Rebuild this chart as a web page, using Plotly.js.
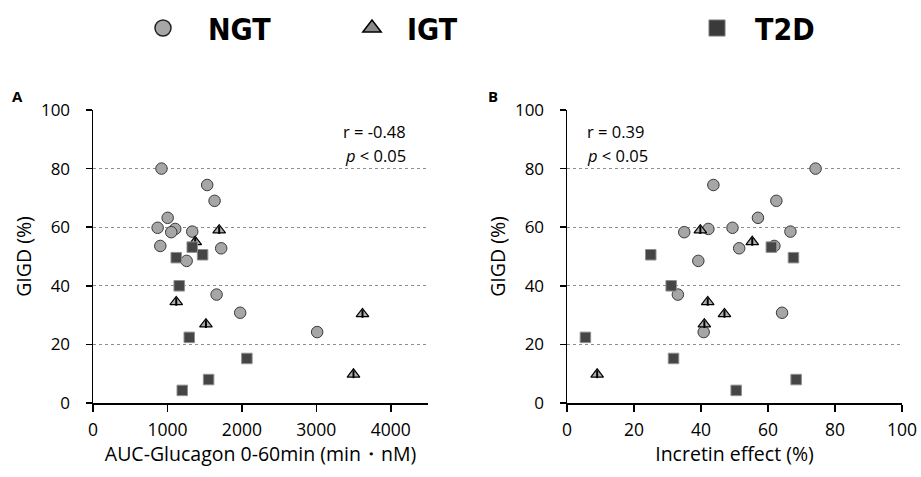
<!DOCTYPE html>
<html><head><meta charset="utf-8">
<script src="https://cdn.plot.ly/plotly-3.0.1.min.js"></script>
<style>html,body{margin:0;padding:0;background:#fff}</style>
</head><body><div id="chart" style="width:921px;height:477px"></div>
<script>
// Group names
const groupNames = ['NGT', 'IGT', 'T2D'];
// NGT subjects
const ngtGIGD      = [80.0, 74.4, 69.0, 63.2, 59.8, 59.4, 58.3, 58.5, 53.6, 52.8, 48.5, 37.0, 30.8, 24.2];
const ngtGlucagon  = [920, 1534, 1633, 1003, 868, 1105, 1051, 1333, 904, 1722, 1258, 1660, 1977, 3011];
const ngtIncretin  = [74.2, 43.7, 62.5, 57.0, 49.4, 42.2, 35.0, 66.7, 61.9, 51.4, 39.2, 33.1, 64.2, 40.8];
// IGT subjects
const igtGIGD      = [59.0, 55.0, 34.5, 30.4, 26.9, 9.8];
const igtGlucagon  = [1695, 1373, 1118, 3620, 1517, 3499];
const igtIncretin  = [39.8, 55.3, 42.0, 47.0, 41.0, 9.0];
// T2D subjects
const t2dGIGD      = [53.2, 50.6, 49.6, 40.0, 22.4, 15.2, 8.0, 4.3];
const t2dGlucagon  = [1333, 1472, 1118, 1158, 1293, 2067, 1553, 1199];
const t2dIncretin  = [61.0, 25.0, 67.6, 31.1, 5.5, 31.8, 68.4, 50.5];
// axis ticks
const xTicksA = [0, 1000, 2000, 3000, 4000];
const xTicksB = [0, 20, 40, 60, 80, 100];
const yTicks  = [0, 20, 40, 60, 80, 100];
// stats text
const statsA = ['r = -0.48', '<i>p</i> < 0.05'];
const statsB = ['r = 0.39', '<i>p</i> < 0.05'];

const FONT = 'Open Sans, Noto Sans, sans-serif';
const LEGFONT = 'Liberation Sans Narrow, DejaVu Sans Condensed, sans-serif';

const mk = {
  NGT: {symbol: 'circle', size: 11.5, color: '#a6a6a6', line: {color: '#3a3a3a', width: 1}},
  IGT: {symbol: 'triangle-up', size: 11, color: '#b0b0b0', line: {color: '#000000', width: 1.2}},
  T2D: {symbol: 'square', size: 10.5, color: '#454545', line: {color: '#8f8f8f', width: 1}}
};
const stripe = {symbol: 'line-ns', size: 5.5, color: '#000', line: {color: '#000', width: 2}};
const legMk = {
  NGT: {symbol: 'circle', size: 16, color: '#a6a6a6', line: {color: '#222', width: 1.5}},
  IGT: {symbol: 'triangle-up', size: 16, color: '#8a8a8a', line: {color: '#000', width: 1.5}},
  T2D: {symbol: 'square', size: 16, color: '#3a3a3a', line: {color: '#777', width: 1}}
};

const dataSets = [
  {name: groupNames[0], y: ngtGIGD, a: ngtGlucagon, b: ngtIncretin, legend: 'legend'},
  {name: groupNames[1], y: igtGIGD, a: igtGlucagon, b: igtIncretin, legend: 'legend2'},
  {name: groupNames[2], y: t2dGIGD, a: t2dGlucagon, b: t2dIncretin, legend: 'legend3'}
];

const traces = [];
[['x', 'y', 'a'], ['x2', 'y2', 'b']].forEach(([xa, ya, key]) => {
  dataSets.forEach(d => {
    traces.push({type: 'scatter', mode: 'markers', x: d[key], y: d.y, xaxis: xa, yaxis: ya,
      name: d.name, showlegend: false, marker: mk[d.name], cliponaxis: false, hoverinfo: 'x+y'});
    if (d.name === 'IGT') {
      traces.push({type: 'scatter', mode: 'markers', x: d[key], y: d.y, xaxis: xa, yaxis: ya,
        name: d.name, showlegend: false, marker: stripe, cliponaxis: false, hoverinfo: 'skip'});
    }
  });
});
// legend entries (no data points)
dataSets.forEach(d => {
  traces.push({type: 'scatter', mode: 'markers', x: [null], y: [null], xaxis: 'x', yaxis: 'y',
    name: d.name, legend: d.legend, showlegend: true, marker: legMk[d.name], hoverinfo: 'skip'});
});

const yDom = [1 - 403 / 477, 1 - 110 / 477];
const commonY = {
  range: [0, 100], tickvals: yTicks, ticktext: yTicks.map(String),
  showgrid: true, gridcolor: '#8c8c8c', griddash: 'dot', gridwidth: 1,
  showline: true, linecolor: '#000', linewidth: 1.5, zeroline: false,
  ticks: 'outside', ticklen: 6, tickwidth: 1.5, tickcolor: '#000',
  tickfont: {family: FONT, size: 17, color: '#000'}, ticklabelstandoff: 12,
  title: {text: 'GIGD (%)', font: {family: FONT, size: 19.5, color: '#000'}, standoff: 4},
  domain: yDom, automargin: false, fixedrange: true
};
const commonX = {
  showgrid: false, showline: true, linecolor: '#000', linewidth: 1.5, zeroline: false,
  ticks: 'outside', ticklen: 7, tickwidth: 1.5, tickcolor: '#000',
  tickfont: {family: FONT, size: 17.5, color: '#000'}, ticklabelstandoff: 3,
  automargin: false, fixedrange: true
};

const legCommon = {orientation: 'h', yanchor: 'middle', xanchor: 'left',
  y: 1 - 28 / 477, bgcolor: 'rgba(0,0,0,0)',
  font: {family: LEGFONT, size: 30, weight: 'bold', color: '#000'}};

const layout = {
  width: 921, height: 477,
  margin: {l: 0, r: 0, t: 0, b: 0},
  paper_bgcolor: '#fff', plot_bgcolor: '#fff',
  showlegend: true,
  legend: Object.assign({}, legCommon, {x: 118 / 921, itemwidth: 80}),
  legend2: Object.assign({}, legCommon, {x: 337 / 921, itemwidth: 60}),
  legend3: Object.assign({}, legCommon, {x: 679 / 921, itemwidth: 66}),
  xaxis: Object.assign({}, commonX, {domain: [93 / 921, 428 / 921], range: [0, 4500], tickvals: xTicksA,
    ticktext: xTicksA.map(String), anchor: 'y',
    title: {text: 'AUC-Glucagon 0-60min (min・nM)', font: {family: FONT, size: 19.5, color: '#000'}, standoff: 6}}),
  yaxis: Object.assign({}, commonY, {anchor: 'x'}),
  xaxis2: Object.assign({}, commonX, {domain: [567 / 921, 902 / 921], range: [0, 100], tickvals: xTicksB,
    ticktext: xTicksB.map(String), anchor: 'y2',
    title: {text: 'Incretin effect (%)', font: {family: FONT, size: 19.5, color: '#000'}, standoff: 6}}),
  yaxis2: Object.assign({}, commonY, {anchor: 'x2'}),
  annotations: [
    {text: statsA[0], xref: 'x', yref: 'y', x: 4230, y: 92.8, xanchor: 'right', yanchor: 'middle', showarrow: false,
     font: {family: FONT, size: 16.5, color: '#000'}},
    {text: statsA[1], xref: 'x', yref: 'y', x: 4230, y: 84.6, xanchor: 'right', yanchor: 'middle', showarrow: false,
     font: {family: FONT, size: 16.5, color: '#000'}},
    {text: statsB[0], xref: 'x2', yref: 'y2', x: 5.5, y: 92.8, xanchor: 'left', yanchor: 'middle', showarrow: false,
     font: {family: FONT, size: 16.5, color: '#000'}},
    {text: statsB[1], xref: 'x2', yref: 'y2', x: 5.5, y: 84.6, xanchor: 'left', yanchor: 'middle', showarrow: false,
     font: {family: FONT, size: 16.5, color: '#000'}},
    {text: '<b>A</b>', xref: 'paper', yref: 'paper', x: 10 / 921, y: 1 - 96 / 477, xanchor: 'left', yanchor: 'middle',
     showarrow: false, font: {family: FONT, size: 15, color: '#000'}},
    {text: '<b>B</b>', xref: 'paper', yref: 'paper', x: 486 / 921, y: 1 - 96 / 477, xanchor: 'left', yanchor: 'middle',
     showarrow: false, font: {family: FONT, size: 15, color: '#000'}}
  ]
};

Plotly.newPlot('chart', traces, layout, {displayModeBar: false, staticPlot: true});
</script>
</body></html>
